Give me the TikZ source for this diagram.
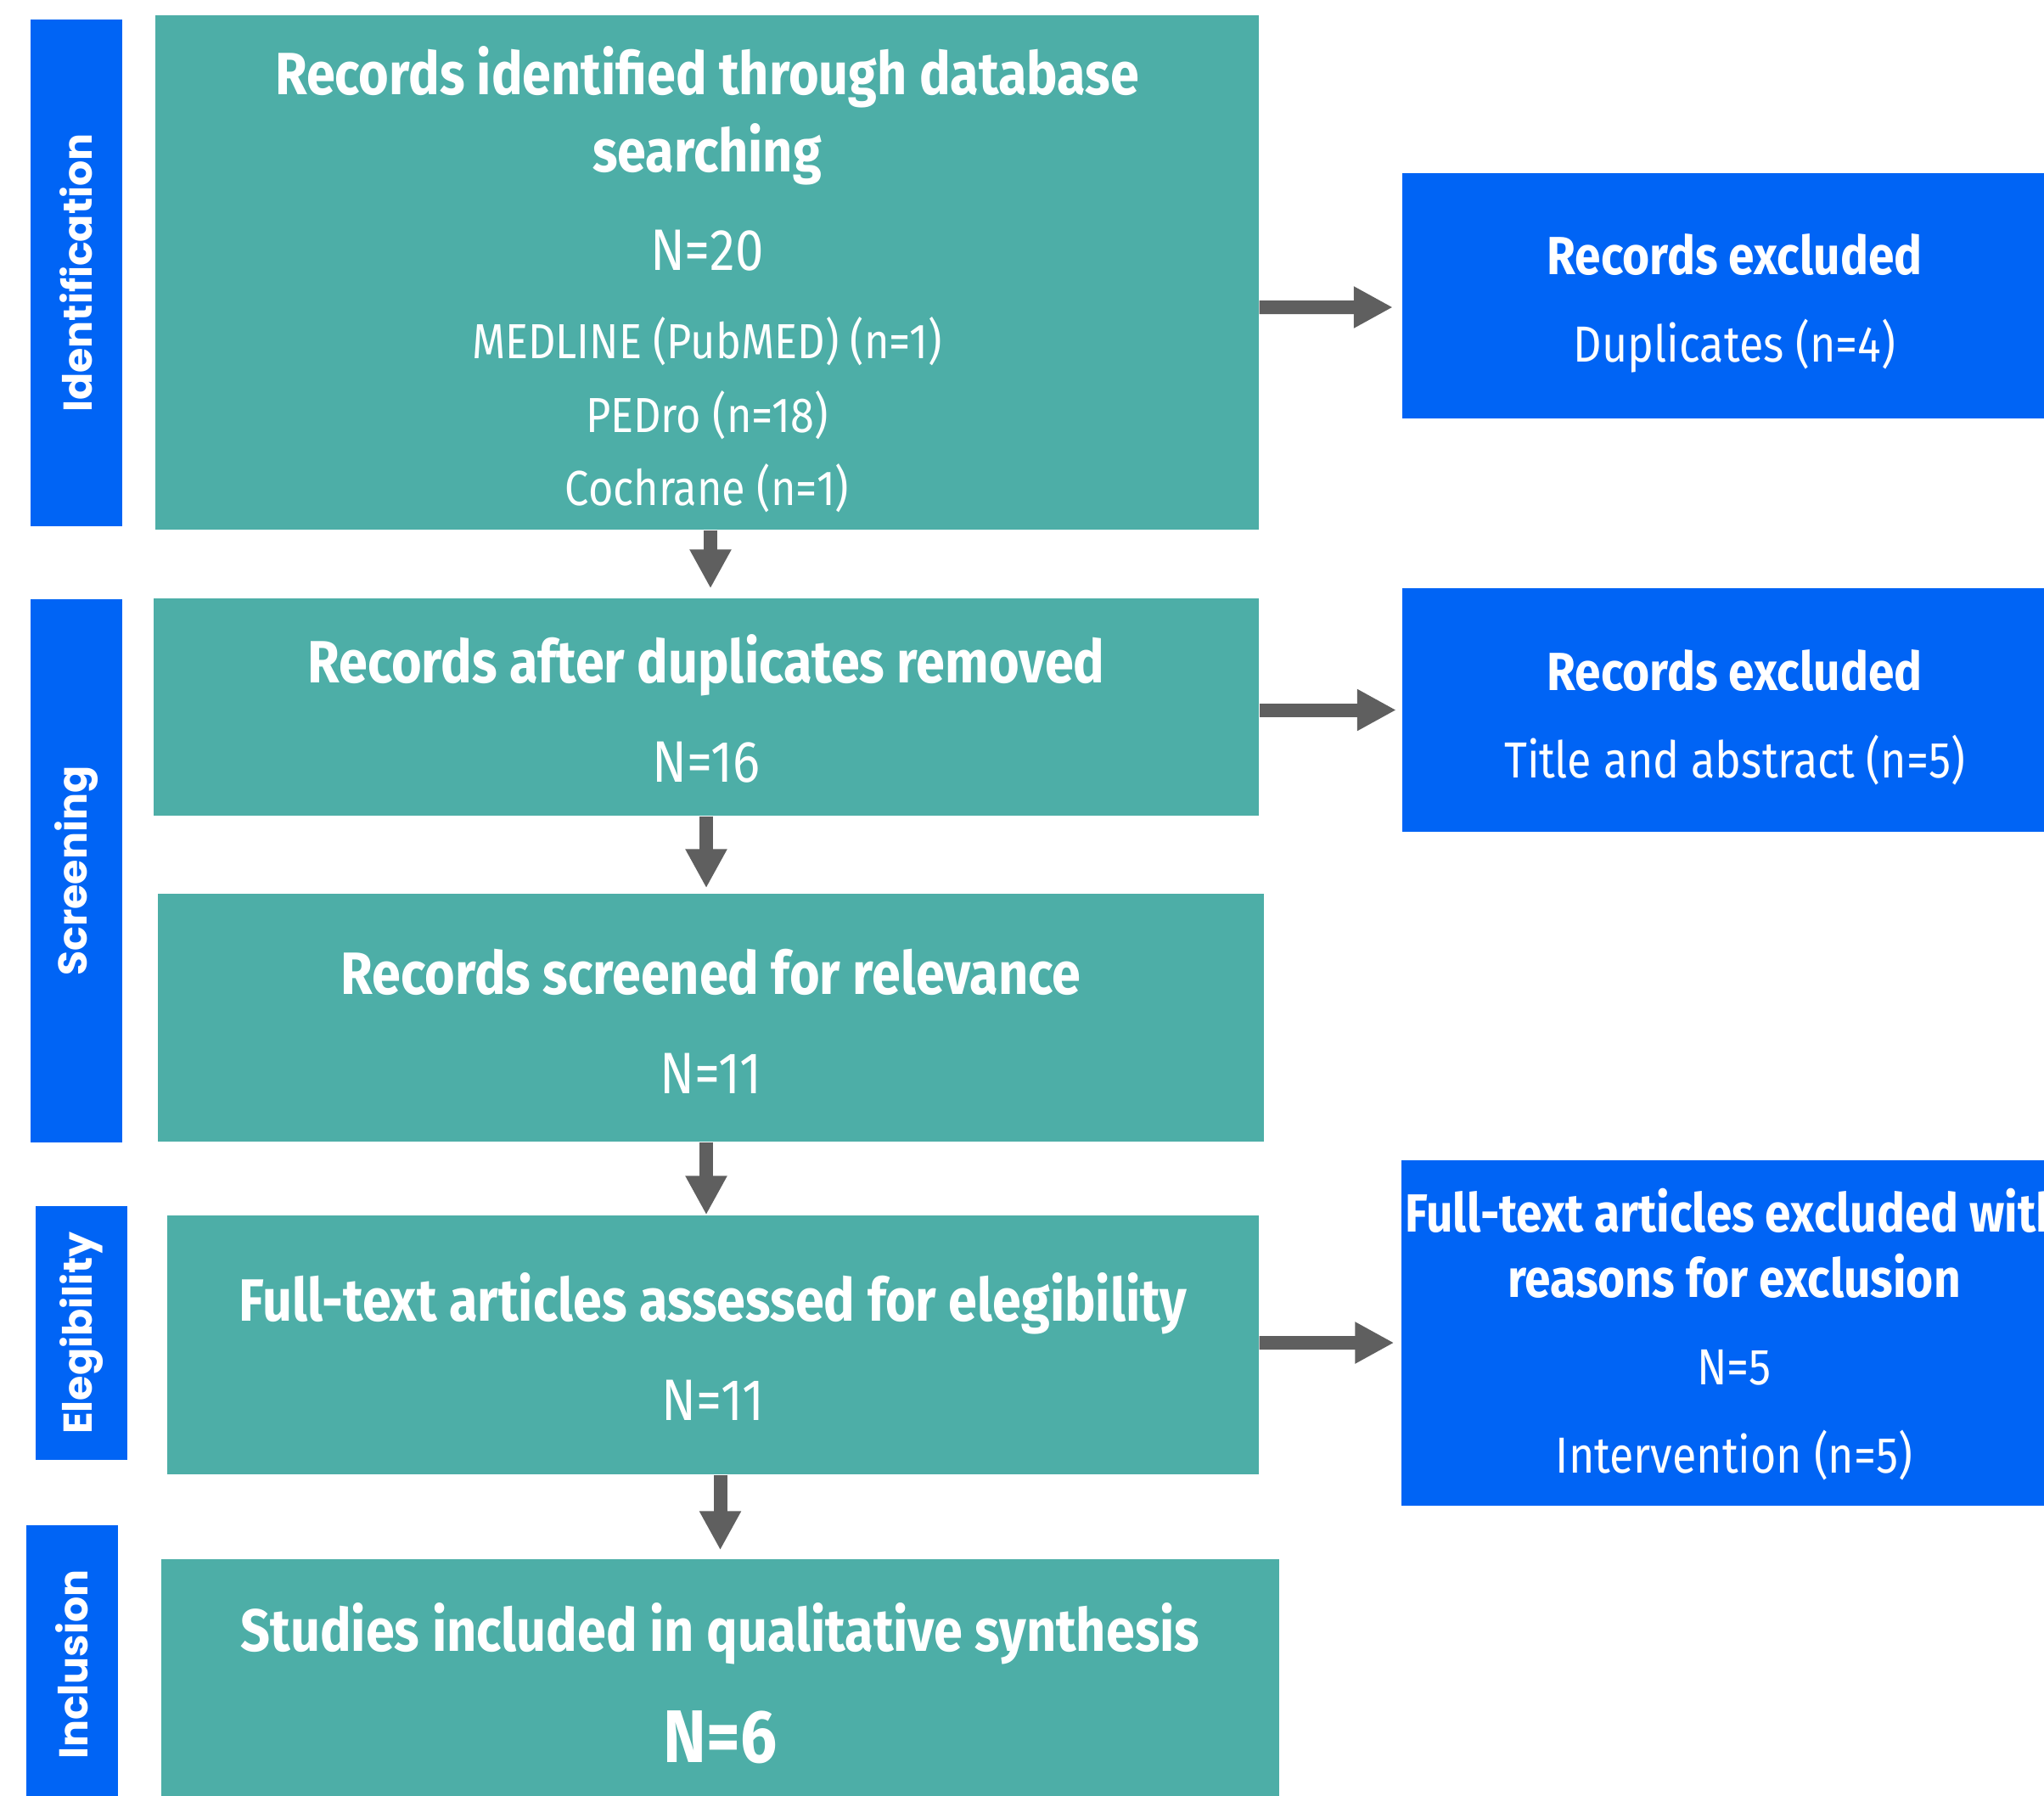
\documentclass[tikz,border=0pt]{standalone}
\usepackage{fontspec}
\setmainfont{Fira Sans}[FakeStretch=0.87]
\newfontfamily\phasefont{Poppins}
\usetikzlibrary{arrows.meta}

\definecolor{boxteal}{HTML}{4DAEA7}
\definecolor{boxblue}{HTML}{0064F5}
\definecolor{arrowgray}{HTML}{5F5F5F}

\newcommand{\headtxt}[1]{{\fontsize{20}{24.5}\selectfont\bfseries #1}}
\newcommand{\exctxt}[1]{{\fontsize{18}{24.5}\selectfont\bfseries #1}}
\newcommand{\numtxt}[1]{{\fontsize{19.6}{24.5}\selectfont #1}}

\begin{document}
\begin{tikzpicture}[
    >={Triangle[length=4.6mm,width=4.6mm]},
    flowbox/.style={fill=boxteal, text=white, inner sep=0pt, align=center, font=\fontsize{16.5}{24.5}\selectfont},
    exclbox/.style={fill=boxblue, text=white, inner sep=0pt, align=center, minimum width=78.4mm, font=\fontsize{17}{24.5}\selectfont},
    phase/.style={fill=boxblue, text=white, inner sep=0pt, rotate=90, minimum height=10.8mm, font=\phasefont\bfseries\fontsize{13.5}{16}\selectfont},
    flow/.style={->, draw=arrowgray, line width=1.6mm}
]
\clip (0,0) rectangle (24.08,-21.15);

% phase labels
\node[phase, minimum width=59.7mm] (idlab) at (0.90,-3.215) {Identification};
\node[phase, minimum width=64mm] (sclab) at (0.90,-10.26) {Screening};
\node[phase, minimum width=29.9mm] (ellab) at (0.96,-15.705) {Elegibility};
\node[phase, minimum width=32.8mm] (inlab) at (0.85,-19.61) {Inclusion};

% main flow
\node[flowbox, minimum width=130mm, minimum height=60.6mm] (ident) at (8.33,-3.21) {\headtxt{\rule{0pt}{21pt}Records identified through database}\\[1.4pt]
  \headtxt{searching}\\[8.5pt]
  \numtxt{N=20}\\[5.2pt]
  MEDLINE (PubMED) (n=1)\\[0.25pt]
  PEDro (n=18)\\
  Cochrane (n=1)};
\node[flowbox, minimum width=130.2mm, minimum height=25.6mm] (dedup) at (8.32,-8.33) {\headtxt{\rule{0pt}{17.5pt}Records after duplicates removed}\\[8.8pt]
  \numtxt{N=16}};
\node[flowbox, minimum width=130.3mm, minimum height=29.2mm] (screen) at (8.375,-11.99) {\headtxt{\rule{0pt}{17.5pt}Records screened for relevance}\\[8.8pt]
  \numtxt{N=11}};
\node[flowbox, minimum width=128.6mm, minimum height=30.5mm] (fulltext) at (8.40,-15.845) {\headtxt{\rule{0pt}{17.5pt}Full-text articles assessed for elegibility}\\[8.8pt]
  \numtxt{N=11}};
\node[flowbox, minimum width=131.7mm, minimum height=28.8mm] (incl) at (8.485,-19.81) {\headtxt{\rule{0pt}{17.5pt}Studies included in qualitative synthesis}\\[12.9pt]
  {\fontsize{25}{24.5}\selectfont\bfseries N=6}};

% exclusions
\node[exclbox, minimum height=28.9mm] (excla) at (20.435,-3.485) {\exctxt{\rule{0pt}{18.6pt}Records excluded}\\[4.8pt]
  Duplicates (n=4)};
\node[exclbox, minimum height=28.7mm] (exclb) at (20.435,-8.365) {\exctxt{\rule{0pt}{18.6pt}Records excluded}\\[4.8pt]
  Title and abstract (n=5)};
\node[exclbox, minimum height=40.7mm] (exclc) at (20.43,-15.705) {\exctxt{\rule{0pt}{15.6pt}Full-text articles excluded with}\\[-2.6pt]
  \exctxt{reasons for exclusion}\\[4.8pt]
  N=5\\[5.1pt]
  Intervention (n=5)};

% arrows
\draw[flow, shorten >=1.1mm] ([xshift=0.4mm]ident.south) -- ([xshift=0.4mm]ident.south |- dedup.north);
\draw[flow, shorten >=0.6mm] (dedup.south) -- (dedup.south |- screen.north);
\draw[flow] ([xshift=-0.55mm]screen.south) -- ([xshift=-0.55mm]screen.south |- fulltext.north);
\draw[flow, shorten >=1mm] (incl.north |- fulltext.south) -- (incl.north);

\draw[flow, shorten >=1mm] ([yshift=-4.1mm]ident.east) -- ([yshift=-1.35mm]excla.west);
\draw[flow, shorten >=0.6mm] (dedup.east |- exclb.west) -- (exclb.west);
\draw[flow, shorten >=0.8mm] ([yshift=0.25mm]fulltext.east) -- ([yshift=-1.15mm]exclc.west);
\end{tikzpicture}
\end{document}
